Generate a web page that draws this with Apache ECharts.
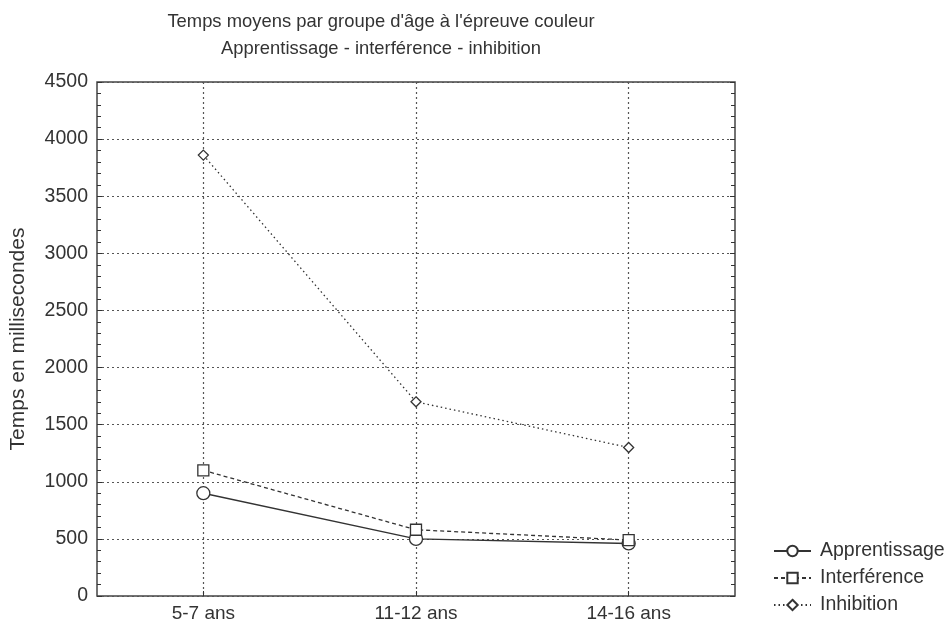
<!DOCTYPE html>
<html><head><meta charset="utf-8">
<script src="https://cdn.jsdelivr.net/npm/echarts@6/dist/echarts.min.js"></script>
<style>html,body{margin:0;background:#fff}#c{width:947px;height:626px}</style>
</head><body><div id="c"></div><script>
const categories = ['5-7 ans', '11-12 ans', '14-16 ans'];
const apprentissage = [900, 500, 460];
const interference = [1100, 580, 490];
const inhibition = [3860, 1700, 1300];
const seriesNames = ['Apprentissage', 'Interférence', 'Inhibition'];
const titleLines = ["Temps moyens par groupe d'âge à l'épreuve couleur", 'Apprentissage - interférence - inhibition'];
const yName = 'Temps en millisecondes';

const FONT = '"Liberation Sans", Arial, sans-serif';
const INK = '#333';
const chart = echarts.init(document.getElementById('c'), null, {renderer: 'canvas'});

function mk(name, data, symbol, size, ltype) {
  return {
    name: name, type: 'line', data: data, yAxisIndex: 0,
    symbol: symbol, symbolSize: size,
    itemStyle: {color: '#fff', borderColor: INK, borderWidth: 1.3},
    lineStyle: {color: INK, width: ltype === 'solid' ? 1.4 : 1.3, type: ltype},
    emphasis: {disabled: true}, animation: false, z: 3
  };
}

const yCommon = {
  type: 'value', min: 0, max: 4500, interval: 500,
  axisLine: {show: false},
  axisTick: {show: true, inside: true, length: 5, lineStyle: {color: INK, width: 1}},
  minorTick: {show: true, splitNumber: 5, length: 4, lineStyle: {color: INK, width: 1}}
};

chart.setOption({
  backgroundColor: '#fff',
  animation: false,
  textStyle: {fontFamily: FONT, color: INK},
  title: {
    text: titleLines.join('\n'),
    left: 376, top: 3, textAlign: 'center',
    textStyle: {fontFamily: FONT, fontSize: 18.4, fontWeight: 'normal', color: INK, lineHeight: 27}
  },
  grid: {left: 97, right: 212, top: 82, bottom: 30, show: true, borderColor: '#444', borderWidth: 1.5, backgroundColor: 'transparent'},
  legend: {
    orient: 'vertical', left: 768, top: 536, itemWidth: 37, itemHeight: 13, itemGap: 7,
    data: seriesNames,
    textStyle: {fontFamily: FONT, fontSize: 19.5, lineHeight: 20, color: INK, padding: [0, 0, 0, 4]},
    selectedMode: false
  },
  xAxis: {
    type: 'category', data: categories, boundaryGap: true,
    axisLine: {show: false},
    axisTick: {show: true, inside: true, alignWithLabel: true, length: 5, lineStyle: {color: INK}},
    axisLabel: {fontFamily: FONT, fontSize: 19, color: INK, margin: 8},
    splitLine: {show: true, alignWithLabel: true, interval: 0, lineStyle: {color: '#555', width: 1.2, type: [2, 3]}}
  },
  yAxis: [
    Object.assign({}, yCommon, {
      position: 'left',
      name: yName, nameLocation: 'middle', nameGap: 68, nameRotate: 90,
      nameTextStyle: {fontFamily: FONT, fontSize: 21, color: INK},
      axisLabel: {fontFamily: FONT, fontSize: 19.5, color: INK, margin: 9, formatter: function (v) { return String(v); }},
      splitLine: {show: true, lineStyle: {color: '#555', width: 1.2, type: [2, 3]}}
    }),
    Object.assign({}, yCommon, {
      position: 'right',
      axisLabel: {show: false},
      splitLine: {show: false}
    })
  ],
  series: [
    mk(seriesNames[0], apprentissage, 'circle', 13, 'solid'),
    mk(seriesNames[1], interference, 'rect', 11, [4, 3]),
    mk(seriesNames[2], inhibition, 'diamond', 10, [1.5, 3])
  ]
});
</script></body></html>
